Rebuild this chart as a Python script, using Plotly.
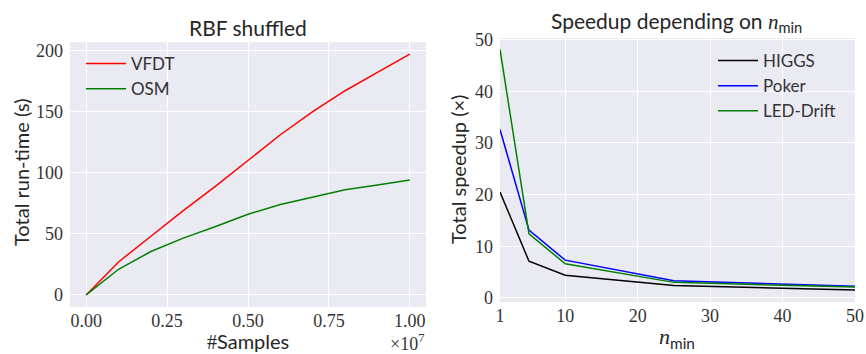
import plotly.graph_objects as go

# ---- data ----
samples = [0, 0.1e7, 0.2e7, 0.3e7, 0.4e7, 0.5e7, 0.6e7, 0.7e7, 0.8e7, 0.9e7, 1.0e7]
vfdt = [0, 27, 48, 69, 89, 110, 131, 150, 167, 182, 197]
osm = [0, 21, 35.5, 46.5, 56, 66, 74, 80, 86, 90, 94]

nmin = [1, 5, 10, 25, 50]
higgs = [20.5, 7.1, 4.4, 2.4, 1.5]
poker = [32.6, 13.1, 7.3, 3.3, 2.25]
led = [48.1, 12.4, 6.6, 3.0, 2.1]

left_xticks = [0, 0.25e7, 0.5e7, 0.75e7, 1.0e7]
left_xticklabels = ["0.00", "0.25", "0.50", "0.75", "1.00"]
left_yticks = [0, 50, 100, 150, 200]
right_xticks = [1, 10, 20, 30, 40, 50]
right_yticks = [0, 10, 20, 30, 40, 50]

W, H = 866, 354
TXT = "#262626"
SANS = "Lato"
SERIF = "Liberation Serif"
BG = "#EAEAF2"


def px_x(x):
    return x / W


def px_y(y):
    return (H - y) / H


fig = go.Figure()
fig.add_trace(go.Scatter(x=samples, y=vfdt, mode="lines", name="VFDT",
                         line=dict(color="#ff0000", width=1.5), xaxis="x", yaxis="y", legend="legend"))
fig.add_trace(go.Scatter(x=samples, y=osm, mode="lines", name="OSM",
                         line=dict(color="#008000", width=1.5), xaxis="x", yaxis="y", legend="legend"))
fig.add_trace(go.Scatter(x=nmin, y=higgs, mode="lines", name="HIGGS",
                         line=dict(color="#000000", width=1.5), xaxis="x2", yaxis="y2", legend="legend2"))
fig.add_trace(go.Scatter(x=nmin, y=poker, mode="lines", name="Poker",
                         line=dict(color="#0000ff", width=1.5), xaxis="x2", yaxis="y2", legend="legend2"))
fig.add_trace(go.Scatter(x=nmin, y=led, mode="lines", name="LED-Drift",
                         line=dict(color="#008000", width=1.5), xaxis="x2", yaxis="y2", legend="legend2"))

fig.update_layout(
    width=W, height=H,
    margin=dict(l=0, r=0, t=0, b=0, autoexpand=False),
    paper_bgcolor="white",
    plot_bgcolor=BG,
    font=dict(family=SERIF, size=18, color="#333333"),
    showlegend=True,
    xaxis=dict(domain=[px_x(70), px_x(426)], range=[-0.05e7, 1.05e7],
               tickvals=left_xticks, ticktext=left_xticklabels, anchor="y"),
    yaxis=dict(domain=[px_y(307), px_y(42)], range=[-9.85, 206.85],
               tickvals=left_yticks, anchor="x"),
    xaxis2=dict(domain=[px_x(500), px_x(855)], range=[1, 50],
                tickvals=right_xticks, anchor="y2"),
    yaxis2=dict(domain=[px_y(302), px_y(38)], range=[-0.8, 50.3],
                tickvals=right_yticks, anchor="x2"),
    legend=dict(x=px_x(81), y=px_y(46), xanchor="left", yanchor="top",
                bgcolor="rgba(0,0,0,0)", font=dict(family=SANS, size=17, color="#333333"),
                tracegroupgap=0, itemwidth=40),
    legend2=dict(x=px_x(713), y=px_y(43), xanchor="left", yanchor="top",
                 bgcolor="rgba(0,0,0,0)", font=dict(family=SANS, size=17, color="#333333"),
                 tracegroupgap=0, itemwidth=40),
)
fig.update_xaxes(showgrid=True, gridcolor="white", gridwidth=1, zeroline=False,
                 showline=False, ticks="", automargin=False, ticklabelstandoff=1,
                 tickfont=dict(family=SERIF, size=18, color="#333333"))
fig.update_yaxes(showgrid=True, gridcolor="white", gridwidth=1, zeroline=False,
                 showline=False, ticks="", automargin=False, ticklabelstandoff=6,
                 tickfont=dict(family=SERIF, size=18, color="#333333"))

ann = []
ann.append(dict(text="RBF shuffled", x=px_x(248), y=px_y(27), xref="paper", yref="paper",
                showarrow=False, font=dict(family=SANS, size=21, color=TXT),
                xanchor="center", yanchor="middle"))
ann.append(dict(text="Speedup depending on <span style='font-family:Liberation Serif'><i>n</i></span><sub>min</sub>",
                x=px_x(676), y=px_y(22), xref="paper", yref="paper",
                showarrow=False, font=dict(family=SANS, size=21, color=TXT),
                xanchor="center", yanchor="middle"))
ann.append(dict(text="Total run-time (s)", x=px_x(21), y=px_y(173), xref="paper", yref="paper",
                showarrow=False, textangle=-90, font=dict(family=SANS, size=20, color=TXT),
                xanchor="center", yanchor="middle"))
ann.append(dict(text="<span style='font-family:Liberation Serif'>#</span>Samples", x=px_x(248), y=px_y(341),
                xref="paper", yref="paper", showarrow=False,
                font=dict(family=SANS, size=20, color=TXT), xanchor="center", yanchor="middle"))
ann.append(dict(text="×10<sup>7</sup>", x=px_x(426), y=px_y(342), xref="paper", yref="paper",
                showarrow=False, font=dict(family=SERIF, size=18, color="#333333"),
                xanchor="right", yanchor="middle"))
ann.append(dict(text="Total speedup (×)", x=px_x(458), y=px_y(170), xref="paper", yref="paper",
                showarrow=False, textangle=-90, font=dict(family=SANS, size=20, color=TXT),
                xanchor="center", yanchor="middle"))
ann.append(dict(text="<span style='font-family:Liberation Serif'><i>n</i></span><sub>min</sub>",
                x=px_x(677), y=px_y(338), xref="paper", yref="paper", showarrow=False,
                font=dict(family=SANS, size=22, color=TXT), xanchor="center", yanchor="middle"))
fig.update_layout(annotations=ann)

fig.write_html("out.html")
